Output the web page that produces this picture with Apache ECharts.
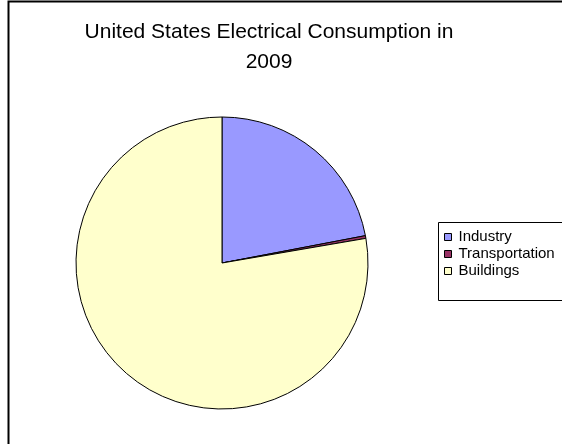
<!DOCTYPE html>
<html><head><meta charset="utf-8">
<script src="https://cdn.jsdelivr.net/npm/echarts@6/dist/echarts.min.js"></script>
<style>html,body{margin:0;padding:0;background:#fff}#c{width:562px;height:444px}</style>
</head><body><div id="c"></div>
<script>
const categories = ['Industry', 'Transportation', 'Buildings'];
const values = [22.0, 0.3, 77.7];
const colors = ['#9999FF', '#993366', '#FFFFCC'];
const titleText = 'United States Electrical Consumption in\n2009';

const chart = echarts.init(document.getElementById('c'), null, {renderer: 'canvas'});
chart.setOption({
  animation: false,
  backgroundColor: '#ffffff',
  title: {
    text: titleText,
    left: 269, top: 17, textAlign: 'center', padding: 0,
    textStyle: {fontFamily: 'Liberation Sans', fontSize: 21, fontWeight: 'normal', color: '#000', lineHeight: 30}
  },
  graphic: [
    {type: 'rect', shape: {x: 8.5, y: 1.5, width: 600, height: 500}, style: {fill: 'none', stroke: '#000', lineWidth: 2}, silent: true, z: 100},
    {type: 'rect', shape: {x: 438.5, y: 222.5, width: 150, height: 78}, style: {fill: 'none', stroke: '#000', lineWidth: 1}, silent: true, z: 100}
  ],
  legend: {
    orient: 'vertical', left: 444, top: 229.5, padding: 0,
    icon: 'rect', itemWidth: 7, itemHeight: 7, itemGap: 2,
    data: categories,
    textStyle: {fontFamily: 'Liberation Sans', fontSize: 15, lineHeight: 15, color: '#000', padding: [0,0,0,2]},
    itemStyle: {borderColor: '#000', borderWidth: 1}
  },
  series: [{
    type: 'pie',
    center: [222, 263], radius: 146,
    startAngle: 90, clockwise: true,
    label: {show: false}, labelLine: {show: false},
    emphasis: {disabled: true},
    itemStyle: {borderColor: '#000', borderWidth: 1},
    data: categories.map((n, i) => ({name: n, value: values[i], itemStyle: {color: colors[i]}}))
  }]
});
</script></body></html>
